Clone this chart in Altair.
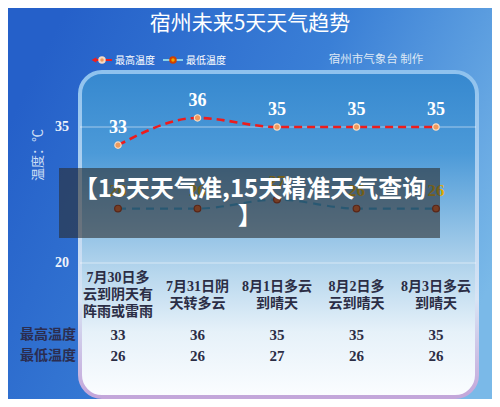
import altair as alt
import pandas as pd

# ---- data ----
categories = ["7月30日多\n云到阴天有\n阵雨或雷雨", "7月31日阴\n天转多云", "8月1日多云\n到晴天",
              "8月2日多\n云到晴天", "8月3日多云\n到晴天"]
high_temps = [33, 36, 35, 35, 35]
low_temps = [26, 26, 27, 26, 26]
y_ticks = [35, 20]
row_labels = ["最高温度", "最低温度"]
title_text = "宿州未来5天天气趋势"
credit_text = "宿州市气象台  制作"
legend_labels = ["最高温度", "最低温度"]
banner_lines = ["【15天天气准,15天精准天气查询", "】"]
y_title = "温度：℃"

df = pd.DataFrame({"idx": list(range(len(categories))), "cat": categories,
                   "high": high_temps, "low": low_temps})
# vertical centring of the multi-line category labels
df["ty"] = [287 - (c.count("\n")) * 8.5 for c in categories]
ticks_df = pd.DataFrame({"t": y_ticks})

W, H = 484, 391
xs = alt.Scale(domain=[-110 / 79.5, 374 / 79.5], nice=False, zero=False)
ys = alt.Scale(domain=[5, 48.125], nice=False, zero=False)
X = alt.X("idx:Q", scale=xs, axis=None)

SERIF = "Liberation Serif, Noto Sans CJK SC"
CJK = "Noto Sans CJK SC"

one = pd.DataFrame({"a": [0]})

bg_grad = alt.LinearGradient(gradient="linear", x1=0, y1=0.3, x2=1, y2=0.7, stops=[
    alt.GradientStop(offset=0, color="#2560c9"),
    alt.GradientStop(offset=0.5, color="#3a7fd6"),
    alt.GradientStop(offset=1, color="#7ab9e8")])
panel_grad = alt.LinearGradient(gradient="linear", x1=0, y1=0, x2=0, y2=1, stops=[
    alt.GradientStop(offset=0, color="#3688cf"),
    alt.GradientStop(offset=0.25, color="#4c9ad8"),
    alt.GradientStop(offset=0.6, color="#b2d4ec"),
    alt.GradientStop(offset=0.8, color="#e6f1f9"),
    alt.GradientStop(offset=1, color="#fbfdff")])
panel_stroke = alt.LinearGradient(gradient="linear", x1=0, y1=0, x2=0, y2=1, stops=[
    alt.GradientStop(offset=0, color="#8fc2ee"),
    alt.GradientStop(offset=0.7, color="#d8e4f4"),
    alt.GradientStop(offset=1, color="#c3a6da")])

bg = alt.Chart(one).mark_rect(fill=bg_grad).encode(
    x=alt.value(0), x2=alt.value(W), y=alt.value(0), y2=alt.value(H))
panel = alt.Chart(one).mark_rect(fill=panel_grad, stroke=panel_stroke, strokeWidth=4,
                                 cornerRadius=22).encode(
    x=alt.value(72), x2=alt.value(469), y=alt.value(64), y2=alt.value(389))

grid = alt.Chart(ticks_df).mark_rule(color="white", opacity=0.35, strokeWidth=1.5).encode(
    y=alt.Y("t:Q", scale=ys, axis=None), x=alt.value(72), x2=alt.value(468))
ytl = alt.Chart(ticks_df).mark_text(font=SERIF, fontSize=14, fontWeight="bold",
                                    color="#eef3fb", align="center", baseline="middle").encode(
    y=alt.Y("t:Q", scale=ys, axis=None), x=alt.value(54), text="t:Q")
ytitle = alt.Chart(one).mark_text(text=y_title, font=CJK, fontSize=13, color="#cddff5",
                                  angle=270, align="center", baseline="middle").encode(
    x=alt.value(30), y=alt.value(147))

high_line = alt.Chart(df).mark_line(color="#ee1c1c", strokeWidth=2.6, strokeDash=[8, 5],
                                    interpolate="monotone").encode(
    x=X, y=alt.Y("high:Q", scale=ys, axis=None))
low_line = alt.Chart(df).mark_line(color="#2a9ad6", strokeWidth=2.2, strokeDash=[8, 6],
                                   interpolate="monotone").encode(
    x=X, y=alt.Y("low:Q", scale=ys, axis=None))
high_pts = alt.Chart(df).mark_point(filled=True, fill="#ee9a5c", stroke="#f6dac4",
                                    strokeWidth=1.2, size=40, opacity=1).encode(
    x=X, y=alt.Y("high:Q", scale=ys, axis=None))
low_pts = alt.Chart(df).mark_point(filled=True, fill="#e0581c", stroke="#9a2200",
                                   strokeWidth=1.2, size=45, opacity=1).encode(
    x=X, y=alt.Y("low:Q", scale=ys, axis=None))
high_lbl = alt.Chart(df).mark_text(font=SERIF, fontSize=18, fontWeight="bold", color="white",
                                   dy=-17, baseline="middle").encode(
    x=X, y=alt.Y("high:Q", scale=ys, axis=None), text="high:Q")
low_lbl = alt.Chart(df).mark_text(font=SERIF, fontSize=17, fontWeight="bold", color="#dcaa00",
                                  dy=-18, baseline="middle").encode(
    x=X, y=alt.Y("low:Q", scale=ys, axis=None), text="low:Q")

banner = alt.Chart(one).mark_rect(fill="#2a2a2a", opacity=0.58).encode(
    x=alt.value(51), x2=alt.value(432), y=alt.value(160), y2=alt.value(230))
ban1 = alt.Chart(one).mark_text(text=banner_lines[0], font=CJK, fontSize=24, fontWeight="bold",
                                color="white", align="center", baseline="middle").encode(
    x=alt.value(242), y=alt.value(182))
ban2 = alt.Chart(one).mark_text(text=banner_lines[1], font=CJK, fontSize=24, fontWeight="bold",
                                color="white", align="center", baseline="middle").encode(
    x=alt.value(242), y=alt.value(209))

cats = alt.Chart(df).mark_text(font=SERIF, fontSize=14, fontWeight="bold", color="#2b2d45",
                               lineBreak="\n", lineHeight=17, align="center",
                               baseline="middle").encode(
    x=X, y=alt.Y("ty:Q", scale=None), text="cat:N")
hi_row = alt.Chart(df).mark_text(font=SERIF, fontSize=15, fontWeight="bold", color="#2b2d45",
                                 baseline="middle").encode(
    x=X, y=alt.value(327), text="high:Q")
lo_row = alt.Chart(df).mark_text(font=SERIF, fontSize=15, fontWeight="bold", color="#2b2d45",
                                 baseline="middle").encode(
    x=X, y=alt.value(348), text="low:Q")
rl_df = pd.DataFrame({"lab": row_labels, "yy": [327, 348]})
row_lbls = alt.Chart(rl_df).mark_text(font=SERIF, fontSize=14, fontWeight="bold",
                                      color="#2b2d50", align="center", baseline="middle").encode(
    x=alt.value(40), y=alt.Y("yy:Q", scale=None), text="lab:N")

title = alt.Chart(one).mark_text(text=title_text, font=CJK, fontSize=21, color="white",
                                 align="center", baseline="middle").encode(
    x=alt.value(242), y=alt.value(16))
credit = alt.Chart(one).mark_text(text=credit_text, font=CJK, fontSize=11.5, color="#dde8f5",
                                  align="center", baseline="middle").encode(
    x=alt.value(368), y=alt.value(52))

leg_r1 = alt.Chart(one).mark_rule(color="#ee1c1c", strokeWidth=2).encode(
    x=alt.value(86), x2=alt.value(104), y=alt.value(52))
leg_r1a = alt.Chart(one).mark_point(shape="triangle-left", filled=True, color="#ee1c1c",
                                    size=30, opacity=1).encode(x=alt.value(86), y=alt.value(52))
leg_p1 = alt.Chart(one).mark_point(filled=True, fill="#ee9a5c", stroke="#f6dac4",
                                   size=30, opacity=1).encode(x=alt.value(94), y=alt.value(52))
leg_t1 = alt.Chart(one).mark_text(text=legend_labels[0], font=CJK, fontSize=10, color="white",
                                  align="left", baseline="middle").encode(
    x=alt.value(107), y=alt.value(53))
leg_r2 = alt.Chart(one).mark_rule(color="#8ad0e8", strokeWidth=2).encode(
    x=alt.value(155), x2=alt.value(175), y=alt.value(52))
leg_p2 = alt.Chart(one).mark_point(filled=True, fill="#f0a800", stroke="#d04000",
                                   size=30, opacity=1).encode(x=alt.value(165), y=alt.value(52))
leg_t2 = alt.Chart(one).mark_text(text=legend_labels[1], font=CJK, fontSize=10, color="white",
                                  align="left", baseline="middle").encode(
    x=alt.value(178), y=alt.value(53))

chart = alt.layer(
    bg, panel, grid, ytl, ytitle, high_line, low_line, high_pts, low_pts, high_lbl, low_lbl,
    banner, ban1, ban2, cats, hi_row, lo_row, row_lbls, title, credit,
    leg_r1, leg_r1a, leg_p1, leg_t1, leg_r2, leg_p2, leg_t2
).properties(width=W, height=H, padding=0, autosize=alt.AutoSizeParams(type="none"),
             background="#2a6acf").configure_view(stroke=None)

chart.save("out.html", embed_options={"renderer": "svg", "actions": False})
